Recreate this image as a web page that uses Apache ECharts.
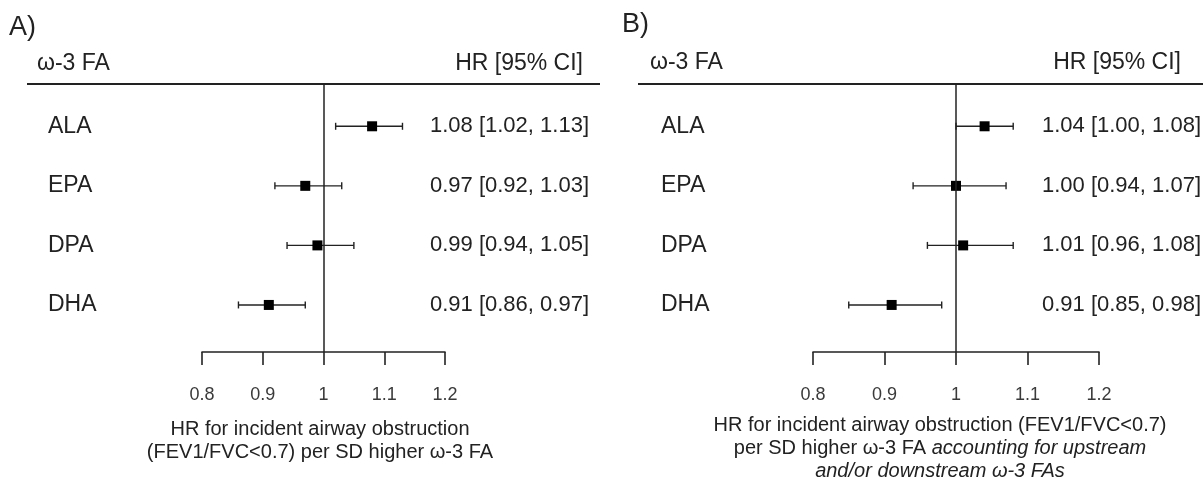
<!DOCTYPE html>
<html>
<head>
<meta charset="utf-8">
<script src="https://cdn.jsdelivr.net/npm/echarts@6/dist/echarts.min.js"></script>
<style>
  html, body { margin: 0; padding: 0; background: #fff; }
  #main { width: 1203px; height: 484px; }
</style>
</head>
<body>
<div id="main"></div>
<script>
// omega-3 fatty acids, same order in both panels
var fattyAcids = ['ALA', 'EPA', 'DPA', 'DHA'];
var tickLabels = ['0.8', '0.9', '1', '1.1', '1.2'];

// A) per SD higher omega-3 FA
var hrA = [1.08, 0.97, 0.99, 0.91];
var lowA = [1.02, 0.92, 0.94, 0.86];
var highA = [1.13, 1.03, 1.05, 0.97];

// B) accounting for upstream and/or downstream omega-3 FAs
var hrB = [1.04, 1.00, 1.01, 0.91];
var lowB = [1.00, 0.94, 0.96, 0.85];
var highB = [1.08, 1.07, 1.08, 0.98];

var FONT = '"Liberation Sans", Arial, sans-serif';
var INK = '#222';

function rows(hr, low, high) {
  return fattyAcids.map(function (name, i) {
    return [i, hr[i], low[i], high[i]];
  });
}

function fmt(v) { return v.toFixed(2); }

// draws CI line with caps, the square, the row label and the "HR [CI]" text
function forestItem(labelX, valueX, hr, low, high) {
  return function (params, api) {
    var i = api.value(0);
    var mid = api.coord([api.value(1), i]);
    var p0 = api.coord([api.value(2), i]);
    var p1 = api.coord([api.value(3), i]);
    var box = 10, cap = 3.5;
    return {
      type: 'group',
      children: [
        { type: 'line', shape: { x1: p0[0], y1: p0[1], x2: p1[0], y2: p1[1] },
          style: { stroke: INK, lineWidth: 1.4 } },
        { type: 'line', shape: { x1: p0[0], y1: p0[1] - cap, x2: p0[0], y2: p0[1] + cap },
          style: { stroke: INK, lineWidth: 1.4 } },
        { type: 'line', shape: { x1: p1[0], y1: p1[1] - cap, x2: p1[0], y2: p1[1] + cap },
          style: { stroke: INK, lineWidth: 1.4 } },
        { type: 'rect', shape: { x: mid[0] - box / 2, y: mid[1] - box / 2, width: box, height: box },
          style: { fill: '#000' } },
        { type: 'text', style: { text: fattyAcids[i], x: labelX, y: mid[1], align: 'left',
          verticalAlign: 'middle', fill: INK, font: '23px ' + FONT } },
        { type: 'text', style: { text: fmt(hr[i]) + ' [' + fmt(low[i]) + ', ' + fmt(high[i]) + ']',
          x: valueX, y: mid[1], align: 'right', verticalAlign: 'middle', fill: INK, font: '22px ' + FONT } }
      ]
    };
  };
}

function xAxisFor(gridIndex) {
  return {
    type: 'value', gridIndex: gridIndex, min: 0.8, max: 1.2, interval: 0.1,
    splitLine: { show: false },
    axisLine: { show: true, onZero: false, lineStyle: { color: INK, width: 1.6 } },
    axisTick: { show: true, inside: false, length: 13, lineStyle: { color: INK, width: 1.6 } },
    axisLabel: {
      margin: 34, color: '#3a3a3a', fontSize: 18, fontFamily: FONT,
      formatter: function (v) { return tickLabels[Math.round((v - 0.8) * 10)]; }
    }
  };
}

function yAxisFor(gridIndex) {
  return { type: 'value', gridIndex: gridIndex, inverse: true, min: -0.71, max: 3.79, show: false };
}

function forestSeries(idx, labelX, valueX, hr, low, high) {
  return {
    type: 'custom', xAxisIndex: idx, yAxisIndex: idx,
    renderItem: forestItem(labelX, valueX, hr, low, high),
    encode: { x: [1, 2, 3], y: 0 },
    data: rows(hr, low, high),
    silent: true,
    markLine: {
      silent: true, symbol: 'none', label: { show: false },
      lineStyle: { color: INK, width: 1.5, type: 'solid' },
      data: [{ xAxis: 1 }]
    }
  };
}

function txt(x, y, text, size, align) {
  return { type: 'text', x: x, y: y, silent: true,
    style: { text: text, fill: INK, font: size + 'px ' + FONT, align: align, verticalAlign: 'middle' } };
}

var italic = { fontStyle: 'italic', fontSize: 20, fontFamily: FONT, fill: INK };

var chart = echarts.init(document.getElementById('main'), null, { renderer: 'canvas' });
chart.setOption({
  backgroundColor: '#fff',
  animation: false,
  grid: [
    { left: 202, right: 758, top: 84, bottom: 132 },
    { left: 813, right: 104, top: 84, bottom: 132 }
  ],
  xAxis: [xAxisFor(0), xAxisFor(1)],
  yAxis: [yAxisFor(0), yAxisFor(1)],
  series: [
    forestSeries(0, 48, 589, hrA, lowA, highA),
    forestSeries(1, 661, 1201, hrB, lowB, highB)
  ],
  graphic: [
    txt(9, 28, 'A)', 27, 'left'),
    txt(622, 25, 'B)', 27, 'left'),
    txt(37, 64, 'ω-3 FA', 23, 'left'),
    txt(583, 64, 'HR [95% CI]', 23, 'right'),
    txt(650, 63, 'ω-3 FA', 23, 'left'),
    txt(1181, 63, 'HR [95% CI]', 23, 'right'),
    { type: 'line', silent: true, shape: { x1: 27, y1: 84, x2: 600, y2: 84 }, style: { stroke: INK, lineWidth: 2.2 } },
    { type: 'line', silent: true, shape: { x1: 638, y1: 84, x2: 1203, y2: 84 }, style: { stroke: INK, lineWidth: 2.2 } },
    { type: 'text', x: 320, y: 418, silent: true,
      style: { text: 'HR for incident airway obstruction\n(FEV1/FVC<0.7) per SD higher ω-3 FA',
        fill: INK, font: '20px ' + FONT, align: 'center', verticalAlign: 'top', lineHeight: 23 } },
    { type: 'text', x: 940, y: 414, silent: true,
      style: { text: 'HR for incident airway obstruction (FEV1/FVC<0.7)\nper SD higher ω-3 FA {i|accounting for upstream}\n{i|and/or downstream ω-3 FAs}',
        fill: INK, font: '20px ' + FONT, align: 'center', verticalAlign: 'top', lineHeight: 23,
        rich: { i: italic } } }
  ]
});
</script>
</body>
</html>
